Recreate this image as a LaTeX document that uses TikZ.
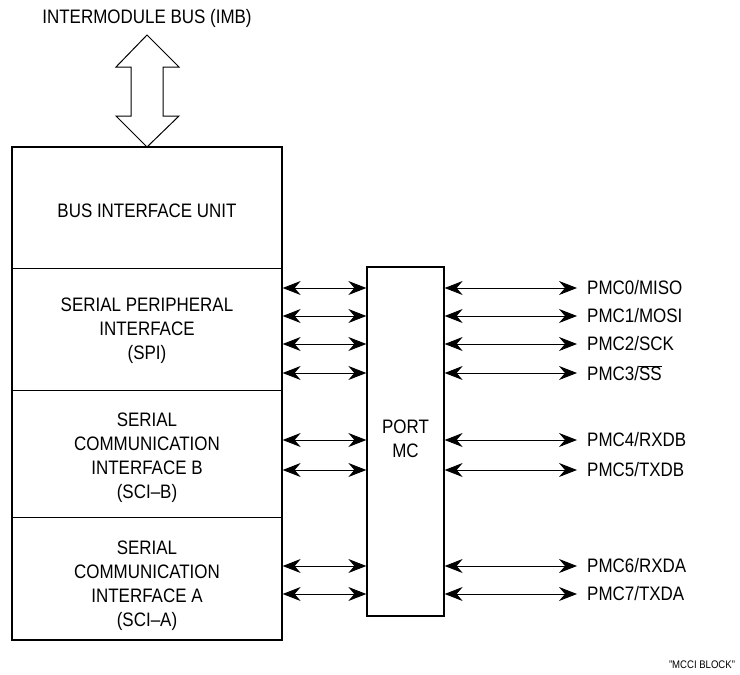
\documentclass[tikz,border=0pt]{standalone}
\usepackage{fontspec}
\setmainfont{Liberation Sans}[FakeStretch=0.87]
\usetikzlibrary{arrows.meta}
\begin{document}
\begin{tikzpicture}[x=1pt,y=-1pt,
  txt/.style={font=\fontsize{19.5}{24}\selectfont, align=center, inner sep=0pt},
  blk/.style={draw, line width=1.3pt, inner sep=0pt},
  sig/.style={line width=0.9pt, {Stealth[length=18pt,width=14pt,inset=6pt]}-{Stealth[length=18pt,width=14pt,inset=6pt]}},
  lbl/.style={font=\fontsize{19.5}{22}\selectfont, anchor=west, inner sep=0pt}]
\useasboundingbox (0,0) rectangle (740,675);
% main block
\node[blk, minimum width=270pt, minimum height=493pt] (main) at (147,393.5) {};
\draw[line width=0.9pt] (main.west |- 0,268) coordinate (d1) -- (main.east |- 0,268) coordinate (d1e);
\draw[line width=0.9pt] (main.west |- 0,390) coordinate (d2) -- (main.east |- 0,390) coordinate (d2e);
\draw[line width=0.9pt] (main.west |- 0,517) coordinate (d3) -- (main.east |- 0,517) coordinate (d3e);
\node[txt] (biu) at (147,211) {BUS INTERFACE UNIT};
\node[txt] (spi) at (147,331) {SERIAL PERIPHERAL\\INTERFACE\\(SPI)};
\node[txt] (scib) at (147,457.5) {SERIAL\\COMMUNICATION\\INTERFACE B\\(SCI--B)};
\node[txt] (scia) at (147,586) {SERIAL\\COMMUNICATION\\INTERFACE A\\(SCI--A)};
% port
\node[blk, minimum width=77pt, minimum height=349pt] (port) at (405.5,441.5) {};
\node[txt] (porttxt) at (405.5,439) {PORT\\MC};
% bus arrow
\node[txt] (imb) at (147,18) {INTERMODULE BUS (IMB)};
\draw[line width=1pt, line join=miter] (147,35) -- (179,67) -- (163,67) -- (163,116) -- (179,116) -- (147,147)
  -- (116,116) -- (131,116) -- (131,67) -- (116,67) -- cycle;
% signals
\foreach \y/\t [count=\i] in {288/PMC0\slash MISO, 316/PMC1\slash MOSI, 344/PMC2\slash SCK, 373/PMC3\slash $\overline{\mbox{SS}}$, 440/PMC4\slash RXDB, 470/PMC5\slash TXDB, 566/PMC6\slash RXDA, 594/PMC7\slash TXDA}{
  \draw[sig] (main.east |- 0,\y) -- (port.west |- 0,\y);
  \coordinate (e\i) at (577,\y);
  \draw[sig] (port.east |- 0,\y) -- (e\i);
  \node[lbl] (p\i) at (587,\y) {\t};
}
\node[font=\fontsize{11}{12}\selectfont, inner sep=0pt] (cap) at (702,665) {"MCCI BLOCK"};
\end{tikzpicture}
\end{document}
